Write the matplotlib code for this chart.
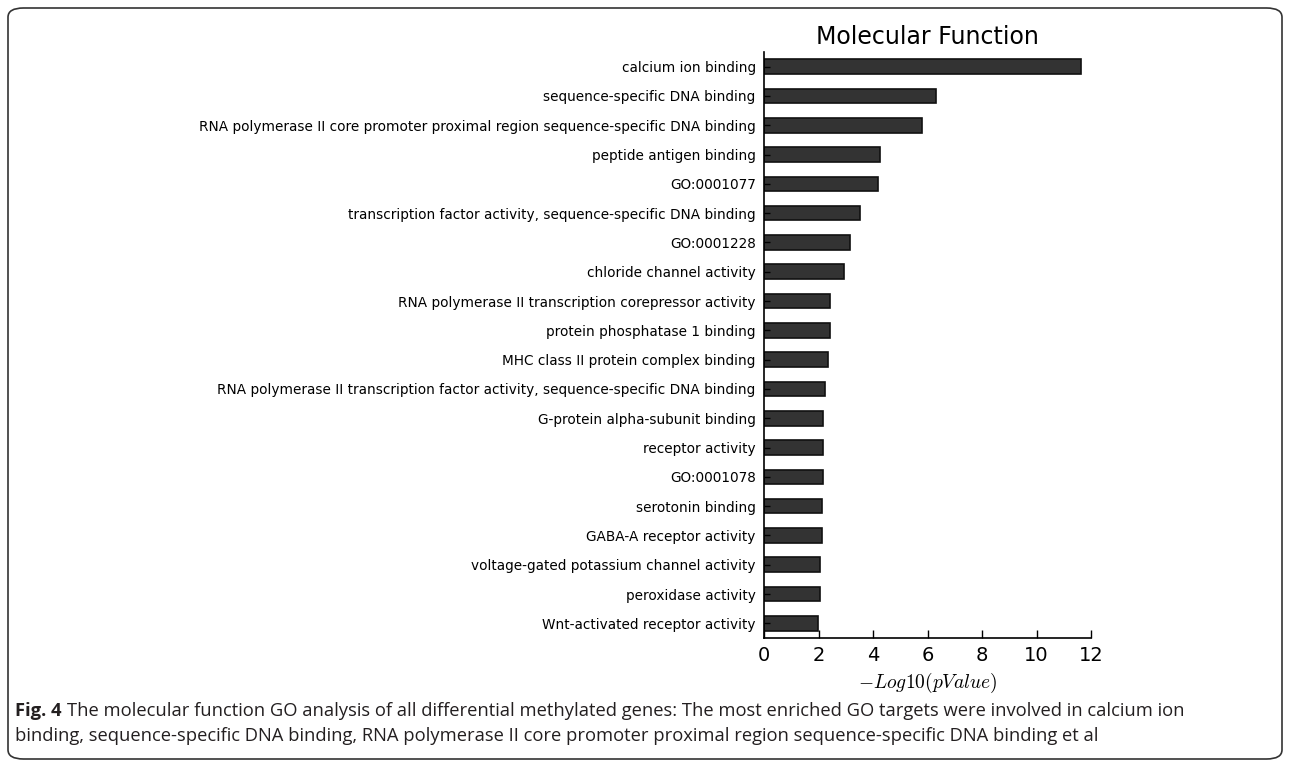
import matplotlib
matplotlib.use("Agg")
import matplotlib.pyplot as plt
from matplotlib.patches import FancyBboxPatch

plt.rcParams["mathtext.fontset"] = "cm"

# GO molecular function terms, top to bottom
terms = [
    "calcium ion binding",
    "sequence-specific DNA binding",
    "RNA polymerase II core promoter proximal region sequence-specific DNA binding",
    "peptide antigen binding",
    "GO:0001077",
    "transcription factor activity, sequence-specific DNA binding",
    "GO:0001228",
    "chloride channel activity",
    "RNA polymerase II transcription corepressor activity",
    "protein phosphatase 1 binding",
    "MHC class II protein complex binding",
    "RNA polymerase II transcription factor activity, sequence-specific DNA binding",
    "G-protein alpha-subunit binding",
    "receptor activity",
    "GO:0001078",
    "serotonin binding",
    "GABA-A receptor activity",
    "voltage-gated potassium channel activity",
    "peroxidase activity",
    "Wnt-activated receptor activity",
]
neg_log_p = [11.63, 6.31, 5.78, 4.27, 4.20, 3.52, 3.16, 2.94, 2.42, 2.42,
             2.34, 2.25, 2.18, 2.18, 2.18, 2.13, 2.12, 2.06, 2.05, 1.98]
xticks = [0, 2, 4, 6, 8, 10, 12]

fig = plt.figure(figsize=(12.9, 7.67), dpi=100)

# rounded frame around the whole figure
frame = FancyBboxPatch((8 / 1290, 8 / 767), 1274 / 1290, 751 / 767,
                       boxstyle="round,pad=0,rounding_size=0.012",
                       transform=fig.transFigure, fill=False,
                       edgecolor="#333333", linewidth=1.2)
fig.patches.append(frame)

ax = fig.add_axes([764 / 1290, 1 - 638 / 767, 327 / 1290, (638 - 52) / 767])
ypos = list(range(len(terms)))[::-1]
ax.barh(ypos, neg_log_p, height=0.5, color="#333333", edgecolor="#111111", linewidth=1.2)
ax.set_ylim(-0.5, len(terms) - 0.5)
ax.set_xlim(0, 12)
ax.set_xticks(xticks)
ax.set_xticklabels([str(t) for t in xticks], fontsize=14)
ax.set_yticks(ypos)
ax.set_yticklabels(terms, fontsize=9.8)
ax.tick_params(axis="x", direction="in", length=6, width=1, pad=6)
ax.tick_params(axis="y", direction="in", length=4, width=1, pad=6)
for s in ["top", "right"]:
    ax.spines[s].set_visible(False)
for s in ["left", "bottom"]:
    ax.spines[s].set_linewidth(1.2)
ax.set_title("Molecular Function", fontsize=17, pad=6)
ax.set_xlabel(r"$-Log10(pValue)$", fontsize=14, labelpad=4)

# caption
cap_font = ["Open Sans", "DejaVu Sans"]
cap_color = "#231f20"
fig.text(15 / 1290, 1 - 711 / 767, "Fig. 4", fontsize=13.2, fontweight="bold",
         color=cap_color, va="center", family=cap_font)
fig.text(67 / 1290, 1 - 711 / 767,
         "The molecular function GO analysis of all differential methylated genes: "
         "The most enriched GO targets were involved in calcium ion",
         fontsize=13.2, color=cap_color, va="center", family=cap_font)
fig.text(15 / 1290, 1 - 736 / 767,
         "binding, sequence-specific DNA binding, RNA polymerase II core promoter "
         "proximal region sequence-specific DNA binding et al",
         fontsize=13.2, color=cap_color, va="center", family=cap_font)

fig.savefig("out.png", dpi=100)
